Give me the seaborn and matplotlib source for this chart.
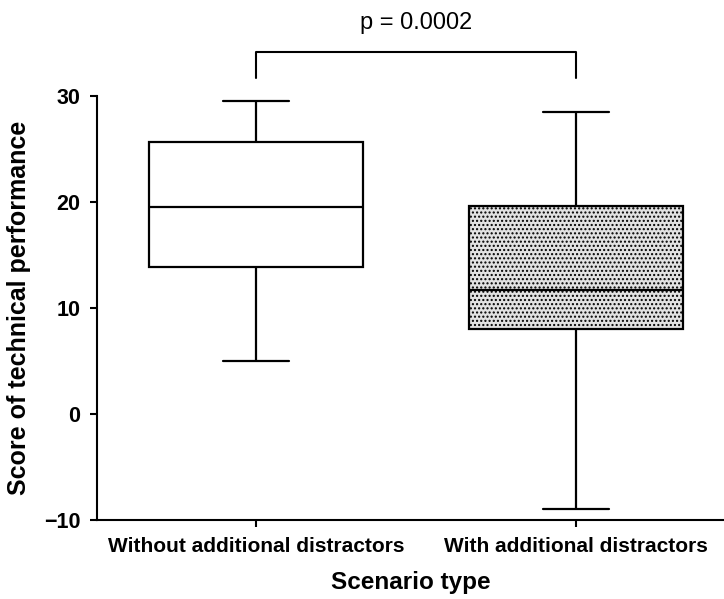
import pandas as pd
import seaborn as sns
import matplotlib.pyplot as plt
from matplotlib.lines import Line2D

# five-number summaries (min, Q1, median, Q3, max)
categories = ["Without additional distractors", "With additional distractors"]
without_vals = [5.0, 13.9, 19.5, 25.6, 29.5]
with_vals = [-9.0, 8.0, 11.7, 19.6, 28.5]
p_text = "p = 0.0002"

df = pd.DataFrame({
    "scenario": [categories[0]] * len(without_vals) + [categories[1]] * len(with_vals),
    "score": without_vals + with_vals,
})

sns.set_style("ticks")
plt.rcParams["font.family"] = ["Liberation Sans", "DejaVu Sans"]
plt.rcParams["text.color"] = "black"
plt.rcParams["axes.labelcolor"] = "black"
plt.rcParams["xtick.color"] = "black"
plt.rcParams["ytick.color"] = "black"
plt.rcParams["axes.edgecolor"] = "black"
plt.rcParams["hatch.color"] = "#444444"
plt.rcParams["hatch.linewidth"] = 1.0

fig = plt.figure(figsize=(7.24, 5.99), dpi=100)
ax = fig.add_axes([0.134, 0.132, 0.866, 0.708])

sns.boxplot(
    data=df, x="scenario", y="score", order=categories,
    whis=(0, 100), width=0.67, color="white", linecolor="black",
    linewidth=1.6, fliersize=0, ax=ax,
)

# second box gets the stippled fill
boxes = [p for p in ax.patches]
boxes[1].set_facecolor("#e2e2e2")
boxes[1].set_hatch("....")

# caps a bit wider than seaborn's default
for ln in ax.lines:
    x = ln.get_xdata()
    y = ln.get_ydata()
    if len(x) == 2 and y[0] == y[1]:
        span = abs(x[1] - x[0])
        if span < 0.6:
            c = (x[0] + x[1]) / 2
            ln.set_xdata([c - 0.103, c + 0.103])

ax.set_ylim(-10, 30)
ax.set_xlim(-0.497, 1.4625)
ax.set_yticks([-10, 0, 10, 20, 30])
ax.set_yticklabels(["\u221210", "0", "10", "20", "30"])
for s in ["top", "right"]:
    ax.spines[s].set_visible(False)
for s in ["left", "bottom"]:
    ax.spines[s].set_linewidth(1.5)
ax.tick_params(width=1.5, length=5)
ax.tick_params(axis="y", labelsize=15.5, pad=7)
ax.tick_params(axis="x", labelsize=15, pad=7)
for t in ax.get_xticklabels() + ax.get_yticklabels():
    t.set_fontweight("bold")

ax.set_xlabel("Scenario type", fontsize=17.5, fontweight="bold", labelpad=11)
ax.set_ylabel("Score of technical performance", fontsize=18, fontweight="bold", labelpad=9)

# significance bracket
ax.add_line(Line2D([0, 0, 1, 1], [31.7, 34.1, 34.1, 31.7], color="black",
                   linewidth=1.5, clip_on=False))
ax.text(0.5, 36.9, p_text, ha="center", va="center", fontsize=17)

plt.savefig("out.png", dpi=100)
